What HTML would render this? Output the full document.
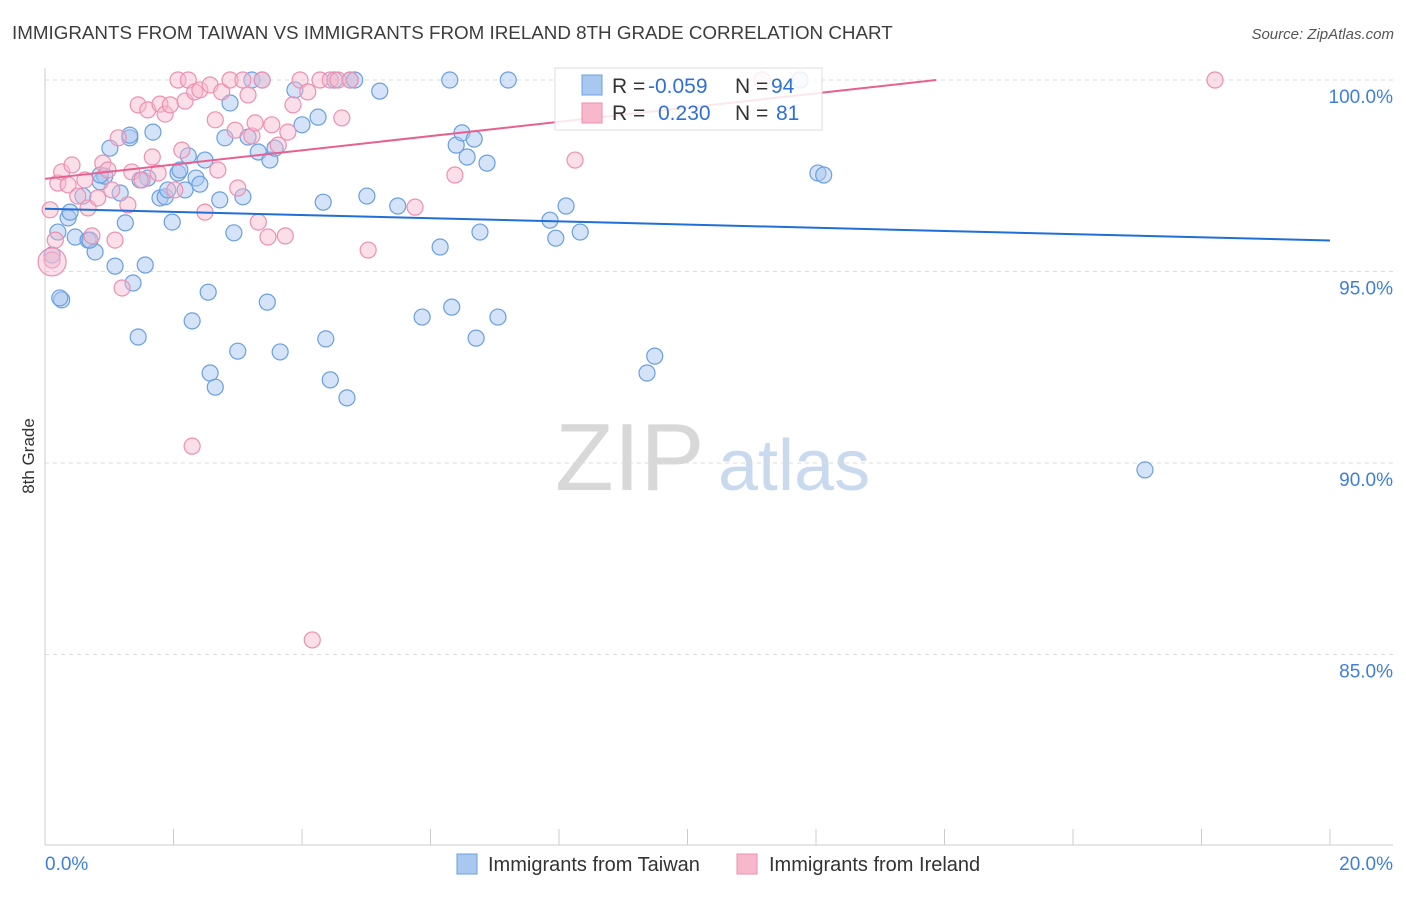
<!DOCTYPE html>
<html><head><meta charset="utf-8"><style>
body{margin:0;background:#fff;font-family:"Liberation Sans",sans-serif;}
svg text{font-family:"Liberation Sans",sans-serif;}
</style></head><body>
<svg id="chart" width="1406" height="892" xmlns="http://www.w3.org/2000/svg">
<text x="12" y="39" font-size="18.8" fill="#3d3d3d">IMMIGRANTS FROM TAIWAN VS IMMIGRANTS FROM IRELAND 8TH GRADE CORRELATION CHART</text>
<text x="1394" y="39" font-size="15" fill="#555" font-style="italic" text-anchor="end">Source: ZipAtlas.com</text>
<text transform="translate(34,456) rotate(-90)" font-size="17" fill="#333" text-anchor="middle">8th Grade</text>
<g><text x="555" y="490" font-size="96" fill="#d8d8d8" font-family="Liberation Serif">ZIP</text><text x="718" y="490" font-size="72" fill="#c9d9ee">atlas</text></g>
<g id="grid"></g><g id="axes"></g><g id="pts"></g><g id="trend"></g>
<g>
<rect x="555" y="68" width="267" height="62" fill="#fff" fill-opacity="0.85" stroke="#ddd"/>
<rect x="582" y="75" width="20" height="20" fill="#a9c8f0" stroke="#6a9fe0"/>
<rect x="582" y="103" width="20" height="20" fill="#f7b8cc" stroke="#ee8fb0"/>
<text x="612" y="93" font-size="21" fill="#333">R = <tspan x="648" fill="#2f6fd6">-0.059</tspan><tspan x="735">N = </tspan><tspan x="771" fill="#2f6fd6">94</tspan></text>
<text x="612" y="120" font-size="21" fill="#333">R = <tspan x="658" fill="#2f6fd6">0.230</tspan><tspan x="735">N = </tspan><tspan x="776" fill="#2f6fd6">81</tspan></text>
</g>
<g>
<rect x="457" y="854" width="20" height="20" fill="#a9c8f0" stroke="#6a9fe0"/>
<text x="488" y="871" font-size="20" fill="#333">Immigrants from Taiwan</text>
<rect x="737" y="854" width="20" height="20" fill="#f7b8cc" stroke="#ee8fb0"/>
<text x="769" y="871" font-size="20" fill="#333">Immigrants from Ireland</text>
</g>
</svg>
<script>
const yTicks=[100,95,90,85];
const yTickLabels=["100.0%","95.0%","90.0%","85.0%"];
const xTickLabels=["0.0%","20.0%"];
const blueX=[0.20,0.26,0.36,0.47,0.59,0.67,0.78,0.86,0.93,1.01,1.09,1.17,1.25,1.32,1.37,1.45,1.56,1.60,1.68,1.79,1.87,1.91,1.98,2.07,2.18,2.23,2.29,2.35,2.41,2.49,2.54,2.57,2.65,2.72,2.80,2.88,2.94,3.00,3.08,3.16,3.22,3.32,3.38,3.46,3.50,3.58,3.66,3.89,4.00,4.25,4.33,4.37,4.44,4.51,4.70,4.75,4.82,5.01,5.21,5.49,5.87,6.15,6.30,6.33,6.40,6.49,6.57,6.68,6.71,6.77,6.88,7.05,7.21,7.86,7.95,8.11,8.33,9.37,9.49,11.75,12.03,12.12,17.12,0.11,0.23,0.39,0.70,0.86,1.32,2.10,1.48];
const blueY=[96.03,94.26,96.40,95.90,96.97,95.82,95.51,97.34,97.49,98.22,95.14,97.05,96.27,98.49,94.70,93.29,95.17,97.44,98.64,96.92,96.95,97.13,96.29,97.57,97.13,98.02,93.71,97.44,97.28,97.91,94.46,92.35,91.98,96.87,98.49,99.40,96.01,92.92,96.95,98.51,100,98.12,100,94.20,97.91,98.22,92.90,99.74,98.83,99.03,96.81,93.24,92.17,100,91.70,100,100,96.97,99.71,96.71,93.81,95.64,100,94.07,98.30,98.62,97.99,98.46,93.26,96.03,97.83,93.81,100,96.34,95.87,96.71,96.03,92.35,92.79,100,97.57,97.52,89.82,95.43,94.31,96.55,95.82,97.52,98.56,97.65,97.39];
const pinkX=[0.08,0.11,0.16,0.20,0.26,0.36,0.42,0.51,0.62,0.67,0.73,0.82,0.90,0.98,1.04,1.09,1.14,1.20,1.29,1.35,1.45,1.51,1.60,1.67,1.76,1.79,1.87,1.95,2.02,2.07,2.13,2.18,2.23,2.29,2.33,2.41,2.49,2.57,2.65,2.69,2.75,2.88,2.96,3.00,3.08,3.16,3.22,3.27,3.32,3.38,3.47,3.53,3.63,3.74,3.78,3.86,3.97,4.09,4.16,4.28,4.44,4.56,4.62,4.75,5.03,5.76,6.38,8.25,11.16,18.21,0.11];
const pinkY=[96.61,95.30,95.82,97.31,97.60,97.26,97.78,96.97,97.39,96.66,95.93,96.92,97.83,97.65,97.13,95.82,98.49,94.57,96.74,97.60,99.35,97.39,99.22,97.99,97.57,99.37,99.11,99.35,97.13,100,98.17,99.45,100,90.44,99.69,99.74,96.55,99.87,98.96,97.65,99.69,100,98.69,97.18,100,99.61,98.54,98.88,96.29,100,95.90,98.83,98.30,95.93,98.64,99.35,100,99.69,85.38,100,100,100,99.01,100,95.56,96.68,97.52,97.91,100,100,95.25];
const blueTrend=[96.64,95.81];
const pinkTrend=[97.42,101.14];
const X=v=>45+v/20*1285, Y=v=>80+(100-v)*38.3;
const NS="http://www.w3.org/2000/svg";
function mk(tag,attrs,parent){const e=document.createElementNS(NS,tag);for(const k in attrs)e.setAttribute(k,attrs[k]);document.getElementById(parent).appendChild(e);return e;}
yTicks.forEach((t,i)=>{
 const l=mk('line',{x1:45,x2:1393,y1:Y(t),y2:Y(t),stroke:'#ddd','stroke-dasharray':'4,4'},'grid');
 
 
 const tx=mk('text',{x:1393,y:Y(t)+23,'font-size':19,fill:'#3f7fd8','text-anchor':'end'},'axes');
 tx.textContent=yTickLabels[i];
 
 
});
let a=mk('line',{x1:45,x2:45,y1:68,y2:845,stroke:'#ccc'},'axes');


a=mk('line',{x1:45,x2:1393,y1:845,y2:845,stroke:'#ccc'},'axes');


for(let v=0;v<=20;v+=2){const t=mk('line',{x1:X(v),x2:X(v),y1:829,y2:845,stroke:'#ccc'},'axes');
 
 }
[[0,'start',45],[20,'end',1393]].forEach((d,i)=>{const t=mk('text',{x:d[2],y:870,'font-size':19,fill:'#3f7fd8','text-anchor':d[1]},'axes');t.textContent=xTickLabels[i];
 
 });
blueX.forEach((x,i)=>{const c=mk('circle',{cx:X(x),cy:Y(blueY[i]),r:8,fill:'#a9c8f0','fill-opacity':0.5,stroke:'#6a9fe0','stroke-width':1.2},'pts');
 
 });
pinkX.forEach((x,i)=>{const c=mk('circle',{cx:X(x),cy:Y(pinkY[i]),r:i==pinkX.length-1?14:8,fill:'#f7b8cc','fill-opacity':0.45,stroke:'#ee8fb0','stroke-width':1.2},'pts');
 
 });
let t=mk('line',{x1:X(0),y1:Y(blueTrend[0]),x2:X(20),y2:Y(blueTrend[1]),stroke:'#1f6fd6','stroke-width':2},'trend');


const pe=Math.min(20,(100-pinkTrend[0])/((pinkTrend[1]-pinkTrend[0])/20));
t=mk('line',{x1:X(0),y1:Y(pinkTrend[0]),x2:X(pe),y2:Y(pinkTrend[0]+(pinkTrend[1]-pinkTrend[0])*pe/20),stroke:'#e8608f','stroke-width':2},'trend');


</script>
</body></html>
